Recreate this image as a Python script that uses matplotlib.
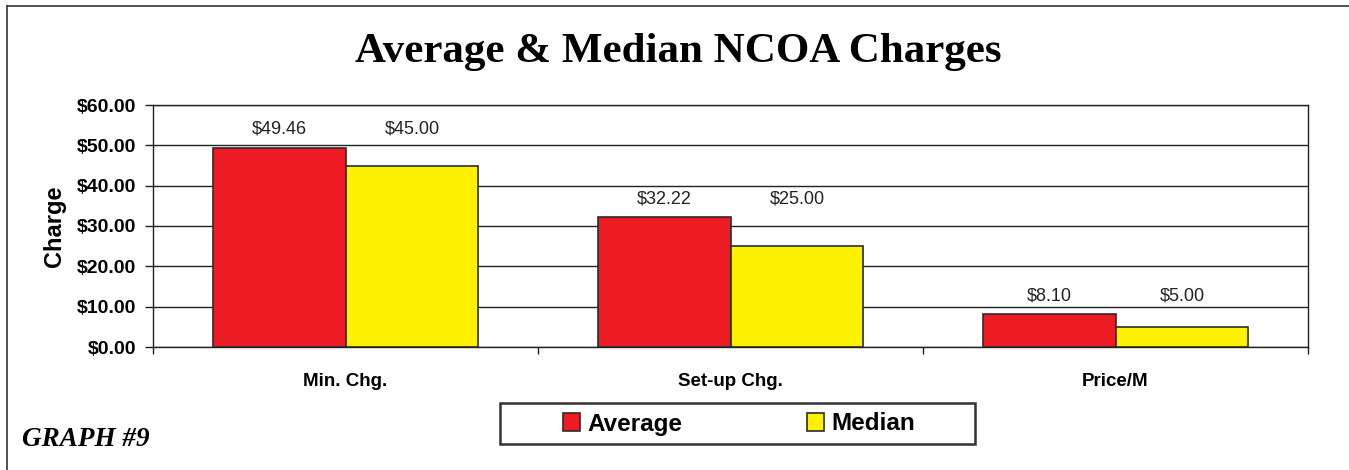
import numpy as np
import matplotlib
matplotlib.use('Agg')
import matplotlib.pyplot as plt
from matplotlib.lines import Line2D
from matplotlib.patches import Rectangle

categories = ['Min. Chg.', 'Set-up Chg.', 'Price/M']
average = [49.46, 32.22, 8.10]
median = [45.00, 25.00, 5.00]
yticks = [0, 10, 20, 30, 40, 50, 60]

red = '#ED1C24'
yellow = '#FFF200'
edge = '#2b2b2b'
W, H = 1349, 470

fig = plt.figure(figsize=(W/100, H/100), dpi=100)
ax = fig.add_axes([153/W, 1-347/H, (1308-153)/W, (347-105)/H])

x = np.arange(len(categories))
w = 0.345
b1 = ax.bar(x - w/2, average, w, color=red, edgecolor=edge, linewidth=1.2, label='Average', zorder=3)
b2 = ax.bar(x + w/2, median, w, color=yellow, edgecolor=edge, linewidth=1.2, label='Median', zorder=3)

for i in range(len(categories)):
    top = max(average[i], median[i])
    for xx, v in [(x[i] - w/2, average[i]), (x[i] + w/2, median[i])]:
        ax.annotate(f'${v:.2f}', (xx, top), xytext=(0, 13), textcoords='offset points',
                    ha='center', va='center', fontsize=13, family='Liberation Sans', color='#222222')

ax.set_xlim(-0.5, len(categories) - 0.5)
ax.set_ylim(0, 60)
ax.set_yticks(yticks)
ax.set_yticklabels([f'${t:.2f}' for t in yticks], fontsize=14, fontweight='bold', family='Liberation Sans')
ax.yaxis.grid(True, color='#222222', linewidth=1.0, zorder=0)
ax.set_xticks(x)
ax.set_xticklabels(categories, fontsize=13.5, fontweight='bold', family='Liberation Sans')
ax.tick_params(axis='x', length=0, pad=19)
ax.set_xticks(np.arange(len(categories) + 1) - 0.5, minor=True)
ax.tick_params(axis='x', which='minor', length=5, width=1.0, color='#222222')
ax.tick_params(axis='y', length=6, width=1.0, color='#222222', pad=6)
for s in ax.spines.values():
    s.set_color('#222222')
    s.set_linewidth(1.0)
ax.set_ylabel('Charge', fontsize=17, fontweight='bold', family='Liberation Sans', labelpad=8)

fig.text(678/W, 1-52/H, 'Average & Median NCOA Charges', ha='center', va='center',
         fontsize=31, fontweight='bold', family='Liberation Serif')
fig.text(22/W, 1-440/H, 'GRAPH #9', ha='left', va='center', fontsize=19.5,
         fontweight='bold', style='italic', family='Liberation Serif')

fig.add_artist(Rectangle((500/W, 1-444/H), 475/W, 41/H, transform=fig.transFigure,
                         facecolor='white', edgecolor='#333333', linewidth=1.8))
leg = fig.legend(handles=[b1, b2], labels=['Average', 'Median'], loc='center',
                 bbox_to_anchor=(739/W, 1-424/H), ncol=2, frameon=False,
                 handlelength=0.72, handleheight=0.72, columnspacing=5.1,
                 borderpad=0.2, handletextpad=0.3,
                 prop={'family': 'Liberation Sans', 'weight': 'bold', 'size': 17.5})

# page border (left and top edges)
fig.add_artist(Line2D([7/W, 7/W], [0, 1-6/H], color='#333333', linewidth=1.2))
fig.add_artist(Line2D([7/W, 1], [1-6/H, 1-6/H], color='#333333', linewidth=1.2))

fig.savefig('out.png', dpi=100)
